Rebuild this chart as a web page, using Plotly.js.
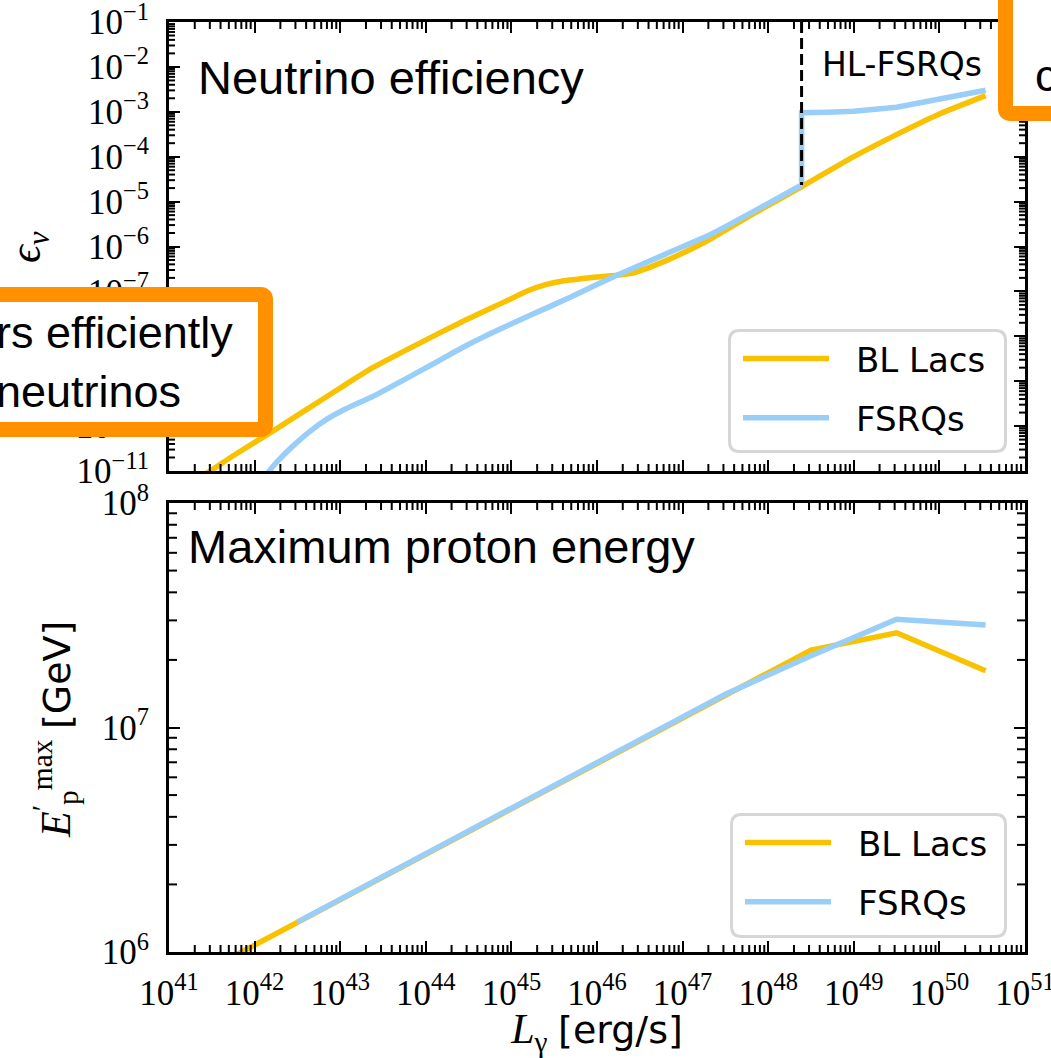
<!DOCTYPE html>
<html>
<head>
<meta charset="utf-8">
<script src="https://cdn.plot.ly/plotly-3.0.1.min.js"></script>
<style>
  html, body { margin: 0; padding: 0; background: #ffffff; }
  #chart { width: 1051px; height: 1058px; }
</style>
</head>
<body>
<div id="chart"></div>
<script>
// ---------- data (log10 values) ----------
// Top panel: neutrino efficiency vs gamma-ray luminosity
const blTopLogL   = [41.40, 41.48, 41.80, 42.18, 42.60, 43.00, 43.38, 43.90, 44.43, 44.90, 45.20, 45.40, 45.60, 46.00, 46.40, 46.80, 47.30, 47.80, 48.39, 49.00, 49.54, 50.00, 50.54];
const blTopLogEps = [-11.10, -11.00, -10.60, -10.15, -9.64, -9.15, -8.70, -8.18, -7.67, -7.25, -6.98, -6.85, -6.77, -6.68, -6.60, -6.32, -5.86, -5.30, -4.67, -4.00, -3.47, -3.05, -2.64];

const fsTopLogL   = [42.14, 42.18, 42.30, 42.45, 42.65, 42.85, 43.05, 43.23, 43.38, 43.85, 44.10, 44.43, 44.80, 45.20, 45.70, 46.20, 46.80, 47.35, 47.80, 48.39];
const fsTopLogEps = [-11.10, -10.98, -10.72, -10.44, -10.11, -9.84, -9.63, -9.47, -9.34, -8.86, -8.60, -8.25, -7.90, -7.55, -7.12, -6.67, -6.17, -5.71, -5.25, -4.63];
// high-luminosity FSRQ branch (after the jump)
const hlTopLogL   = [48.39, 48.39, 48.70, 49.00, 49.50, 49.93, 50.30, 50.54];
const hlTopLogEps = [-4.63, -3.02, -3.01, -2.99, -2.90, -2.74, -2.62, -2.52];

// HL-FSRQ boundary (vertical dashed line)
const hlBoundaryLogL = [48.39, 48.39];
const hlBoundaryLogEps = [-1.0, -4.63];

// Bottom panel: maximum proton energy
const blBotLogL = [41.50, 42.50, 43.50, 44.50, 45.50, 46.50, 47.50, 48.50, 49.50, 50.54];
const blBotLogE = [5.930, 6.133, 6.336, 6.539, 6.742, 6.945, 7.148, 7.345, 7.422, 7.253];
const fsBotLogL = [42.50, 43.50, 44.50, 45.50, 46.50, 47.50, 48.50, 49.50, 50.54];
const fsBotLogE = [6.133, 6.336, 6.539, 6.742, 6.945, 7.148, 7.320, 7.482, 7.457];

// tick exponents / labels
const xTickExp   = [41, 42, 43, 44, 45, 46, 47, 48, 49, 50, 51];
const xTickText  = ['10<sup>41</sup>', '10<sup>42</sup>', '10<sup>43</sup>', '10<sup>44</sup>', '10<sup>45</sup>', '10<sup>46</sup>',
                    '10<sup>47</sup>', '10<sup>48</sup>', '10<sup>49</sup>', '10<sup>50</sup>', '10<sup>51</sup>'];
const yTopTickExp  = [-11, -10, -9, -8, -7, -6, -5, -4, -3, -2, -1];
const yTopTickText = ['10<sup>−11</sup>', '10<sup>−10</sup>', '10<sup>−9</sup>', '10<sup>−8</sup>', '10<sup>−7</sup>', '10<sup>−6</sup>',
                      '10<sup>−5</sup>', '10<sup>−4</sup>', '10<sup>−3</sup>', '10<sup>−2</sup>', '10<sup>−1</sup>'];
const yBotTickExp  = [6, 7, 8];
const yBotTickText = ['10<sup>6</sup>', '10<sup>7</sup>', '10<sup>8</sup>'];

const seriesNames = ['BL Lacs', 'FSRQs'];
const panelLabels = ['Neutrino efficiency', 'Maximum proton energy'];
const axisTitles = {
  x: '<i>L</i><sub>γ</sub> <span style="font-family:DejaVu Sans;font-size:38px">[erg/s]</span>',
  yTop: '<i>ϵ</i><sub><i>ν</i></sub>',
  yBot: '<i>E</i><sup>′</sup><sub>p</sub><sup>max</sup> <span style="font-family:DejaVu Sans;font-size:38px">[GeV]</span>'
};
const hlLabel = 'HL-FSRQs';
const boxLeftText = 'rs efficiently<br>neutrinos';
const boxRightText = 'c';

// ---------- styling ----------
const YEL = '#F9C200';
const BLU = '#99CEF8';
const ORANGE = '#FF9100';
const W = 1051, H = 1058;
const M = {l: 169, r: 26, t: 22, b: 106};
const PW = W - M.l - M.r, PH = H - M.t - M.b;
const px2x = p => (p - M.l) / PW;
const px2y = p => (H - M.b - p) / PH;
const p10 = v => Math.pow(10, v);

const SERIF = 'Liberation Serif';
const SANS = 'DejaVu Sans';
const HELV = 'Liberation Sans';

// panel pixel frames
const X0 = 169, X1 = 1025;
const TOP = {y0: 22, y1: 471, lo: -11, hi: -1};
const BOT = {y0: 503, y1: 952, lo: 6, hi: 8};

// minor tick positions (log10) for decades [d0, d1)
function minorLogs(d0, d1) {
  const out = [];
  for (let d = d0; d < d1; d++) for (let k = 2; k <= 9; k++) out.push(d + Math.log10(k));
  return out;
}
function tickLine(xa, ya, xb, yb) {
  return {type: 'line', xref: 'paper', yref: 'paper', layer: 'above',
          x0: px2x(xa), y0: px2y(ya), x1: px2x(xb), y1: px2y(yb), line: {color: 'black', width: 2}};
}
const minorTickShapes = [];
minorLogs(41, 51).forEach(l => {
  const xp = X0 + (l - 41) / 10 * (X1 - X0);
  minorTickShapes.push(tickLine(xp, BOT.y1, xp, BOT.y1 - 7), tickLine(xp, BOT.y0, xp, BOT.y0 + 7),
                       tickLine(xp, TOP.y1, xp, TOP.y1 - 7), tickLine(xp, TOP.y0, xp, TOP.y0 + 7));
});
[[TOP, 6], [BOT, 8]].forEach(([pn, len]) => {
  minorLogs(pn.lo, pn.hi).forEach(l => {
    const yp = pn.y1 - (l - pn.lo) / (pn.hi - pn.lo) * (pn.y1 - pn.y0);
    minorTickShapes.push(tickLine(X0, yp, X0 + len, yp), tickLine(X1, yp, X1 - len, yp));
  });
});

const traces = [
  {x: blTopLogL.map(p10), y: blTopLogEps.map(p10), xaxis: 'x2', yaxis: 'y2', mode: 'lines',
   line: {color: YEL, width: 5.5, shape: 'spline', smoothing: 0.6}, name: seriesNames[0], legend: 'legend', legendgroup: 'a'},
  {x: fsTopLogL.map(p10), y: fsTopLogEps.map(p10), xaxis: 'x2', yaxis: 'y2', mode: 'lines',
   line: {color: BLU, width: 5.5, shape: 'spline', smoothing: 0.6}, name: seriesNames[1], legend: 'legend', legendgroup: 'b'},
  {x: hlTopLogL.map(p10), y: hlTopLogEps.map(p10), xaxis: 'x2', yaxis: 'y2', mode: 'lines',
   line: {color: BLU, width: 5.5}, name: seriesNames[1], legend: 'legend', legendgroup: 'b', showlegend: false},
  {x: hlBoundaryLogL.map(p10), y: hlBoundaryLogEps.map(p10), xaxis: 'x2', yaxis: 'y2', mode: 'lines',
   line: {color: 'black', width: 3, dash: '11px,5px'}, showlegend: false},
  {x: blBotLogL.map(p10), y: blBotLogE.map(p10), xaxis: 'x', yaxis: 'y', mode: 'lines',
   line: {color: YEL, width: 5.5}, name: seriesNames[0], legend: 'legend2', legendgroup: 'c'},
  {x: fsBotLogL.map(p10), y: fsBotLogE.map(p10), xaxis: 'x', yaxis: 'y', mode: 'lines',
   line: {color: BLU, width: 5.5}, name: seriesNames[1], legend: 'legend2', legendgroup: 'd'}
];

const axCommon = {
  type: 'log', tickmode: 'array',
  ticks: 'inside', ticklen: 11, tickwidth: 2, tickcolor: 'black',
  showline: true, linewidth: 3, linecolor: 'black', mirror: 'allticks',
  showgrid: false, zeroline: false, tickangle: 0, ticklabeloverflow: 'allow', automargin: false
};

const botDomTop = px2y(BOT.y0), topDomBot = px2y(TOP.y1);

function roundRect(x0, y0, x1, y1, r) {
  return `M ${px2x(x0 + r)},${px2y(y0)} L ${px2x(x1 - r)},${px2y(y0)} Q ${px2x(x1)},${px2y(y0)} ${px2x(x1)},${px2y(y0 + r)} ` +
         `L ${px2x(x1)},${px2y(y1 - r)} Q ${px2x(x1)},${px2y(y1)} ${px2x(x1 - r)},${px2y(y1)} ` +
         `L ${px2x(x0 + r)},${px2y(y1)} Q ${px2x(x0)},${px2y(y1)} ${px2x(x0)},${px2y(y1 - r)} ` +
         `L ${px2x(x0)},${px2y(y0 + r)} Q ${px2x(x0)},${px2y(y0)} ${px2x(x0 + r)},${px2y(y0)} Z`;
}

const legendCommon = {
  xanchor: 'left', yanchor: 'top', bgcolor: 'rgba(0,0,0,0)', borderwidth: 0,
  font: {family: SANS, size: 34, color: 'black'}, itemwidth: 118, tracegroupgap: 12
};

const layout = {
  width: W, height: H, margin: M,
  paper_bgcolor: 'white', plot_bgcolor: 'white',
  showlegend: true, hovermode: false,
  xaxis: Object.assign({}, axCommon, {
    range: [41, 51], anchor: 'y', ticklabelstandoff: 8,
    tickvals: xTickExp.map(p10), ticktext: xTickText,
    tickfont: {family: SERIF, size: 35, color: 'black'},
    title: {text: axisTitles.x, font: {family: SERIF, size: 42, color: 'black'}}
  }),
  xaxis2: Object.assign({}, axCommon, {
    range: [41, 51], anchor: 'y2', matches: 'x', showticklabels: false,
    tickvals: xTickExp.map(p10), ticktext: xTickText
  }),
  yaxis: Object.assign({}, axCommon, {
    range: [6, 8], domain: [0, botDomTop], anchor: 'x', ticklabelstandoff: 10,
    tickvals: yBotTickExp.map(p10), ticktext: yBotTickText,
    tickfont: {family: SERIF, size: 35, color: 'black'}
  }),
  yaxis2: Object.assign({}, axCommon, {
    range: [-11, -1], domain: [topDomBot, 1], anchor: 'x2', ticklabelstandoff: 10,
    tickvals: yTopTickExp.map(p10), ticktext: yTopTickText,
    tickfont: {family: SERIF, size: 35, color: 'black'}
  }),
  legend: Object.assign({x: px2x(728), y: px2y(330)}, legendCommon),
  legend2: Object.assign({x: px2x(730), y: px2y(814)}, legendCommon),
  shapes: minorTickShapes.concat([
    // legend frames
    {type: 'path', xref: 'paper', yref: 'paper', layer: 'above', path: roundRect(729.5, 330.5, 1005.5, 451.5, 10),
     fillcolor: 'white', line: {color: '#d6d6d6', width: 3}},
    {type: 'path', xref: 'paper', yref: 'paper', layer: 'above', path: roundRect(731.5, 814.5, 1005.5, 936.5, 10),
     fillcolor: 'white', line: {color: '#d6d6d6', width: 3}},
    // orange callout boxes
    {type: 'path', xref: 'paper', yref: 'paper', layer: 'above',
     path: `M ${px2x(-40)},${px2y(294.5)} L ${px2x(260.5)},${px2y(294.5)} Q ${px2x(265.5)},${px2y(294.5)} ${px2x(265.5)},${px2y(299.5)} L ${px2x(265.5)},${px2y(424.5)} Q ${px2x(265.5)},${px2y(429.5)} ${px2x(260.5)},${px2y(429.5)} L ${px2x(-40)},${px2y(429.5)} Z`,
     fillcolor: 'white', line: {color: ORANGE, width: 15}},
    {type: 'path', xref: 'paper', yref: 'paper', layer: 'above',
     path: `M ${px2x(1005.5)},${px2y(-40)} L ${px2x(1005.5)},${px2y(108.5)} Q ${px2x(1005.5)},${px2y(113.5)} ${px2x(1010.5)},${px2y(113.5)} L ${px2x(1100)},${px2y(113.5)} L ${px2x(1100)},${px2y(-40)} Z`,
     fillcolor: 'white', line: {color: ORANGE, width: 15}}
  ]),
  annotations: [
    {text: axisTitles.yTop, xref: 'paper', yref: 'paper', x: px2x(28), y: px2y(247), xanchor: 'center', yanchor: 'middle',
     textangle: -90, showarrow: false, font: {family: SERIF, size: 44, color: 'black'}},
    {text: axisTitles.yBot, xref: 'paper', yref: 'paper', x: px2x(55), y: px2y(730), xanchor: 'center', yanchor: 'middle',
     textangle: -90, showarrow: false, font: {family: SERIF, size: 42, color: 'black'}},
    {text: panelLabels[0], xref: 'paper', yref: 'paper', x: px2x(196), y: px2y(78), xanchor: 'left', yanchor: 'middle',
     showarrow: false, font: {family: HELV, size: 47, color: 'black'}},
    {text: panelLabels[1], xref: 'paper', yref: 'paper', x: px2x(186), y: px2y(546), xanchor: 'left', yanchor: 'middle',
     showarrow: false, font: {family: HELV, size: 47, color: 'black'}},
    {text: hlLabel, xref: 'paper', yref: 'paper', x: px2x(820), y: px2y(64), xanchor: 'left', yanchor: 'middle',
     showarrow: false, font: {family: SANS, size: 33, color: 'black'}},
    {text: boxLeftText, xref: 'paper', yref: 'paper', x: px2x(-6), y: px2y(362), xanchor: 'left', yanchor: 'middle',
     align: 'left', showarrow: false, font: {family: HELV, size: 45, color: 'black'}},
    {text: boxRightText, xref: 'paper', yref: 'paper', x: px2x(1033), y: px2y(75), xanchor: 'left', yanchor: 'middle',
     showarrow: false, font: {family: HELV, size: 45, color: 'black'}}
  ]
};

Plotly.newPlot('chart', traces, layout, {staticPlot: true, displayModeBar: false}).then(function (gd) {
  gd.querySelectorAll('g.legendlines path').forEach(function (p) { p.setAttribute('d', 'M15,0h86'); });
});
</script>
</body>
</html>
